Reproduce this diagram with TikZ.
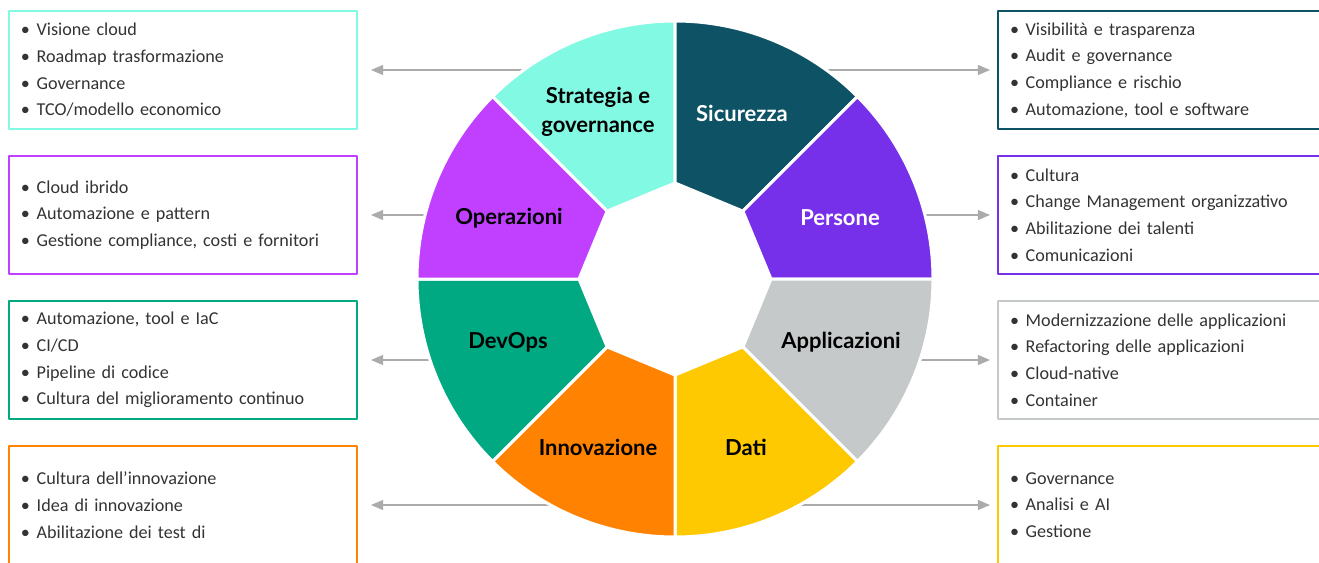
\documentclass[tikz,border=0pt]{standalone}
\usepackage{fontspec}
\setmainfont{Carlito}
\newfontfamily\segfont{Lato}
\usepackage{xcolor}
\usepackage{tikz}
\usetikzlibrary{calc}
\usetikzlibrary{arrows}
\definecolor{hpeteal}{HTML}{0D5265}
\definecolor{hpeviolet}{HTML}{7630EA}
\definecolor{hpegrey}{HTML}{C6C9CA}
\definecolor{hpeyellow}{HTML}{FEC901}
\definecolor{hpeorange}{HTML}{FF8300}
\definecolor{hpegreen}{HTML}{01A982}
\definecolor{hpemagenta}{HTML}{C140FF}
\definecolor{hpeaqua}{HTML}{82F9E2}
\definecolor{linkgrey}{HTML}{ABABAB}
\definecolor{txtgrey}{HTML}{333333}
\tikzstyle{every node}=[font=\fontsize{13.6}{20}\selectfont]
\tikzstyle{box}=[draw,line width=1.5pt,minimum width=261pt,minimum height=89pt,inner xsep=9pt,text width=243pt,align=left,text=txtgrey]
\tikzstyle{seglabel}=[font=\segfont\bfseries\fontsize{16.5}{21.75}\selectfont,align=center]
\tikzstyle{link}=[->,line width=1.1pt,color=linkgrey]
\newcommand{\itm}{\textbullet\hspace{5pt}}

\begin{document}
\begin{tikzpicture}[line cap=round,line join=round,>=triangle 45,x=0.75pt,y=0.75pt]
            \useasboundingbox (0,0) rectangle (1319,562);
            \clip (0,0) rectangle (1319,562);
            % left boxes
            \node [box,draw=hpeaqua] (lstrat) at (183,492) {\itm Visione cloud\\\itm Roadmap trasformazione\\\itm Governance\\\itm TCO/modello economico};
            \node [box,draw=hpemagenta] (lops) at (183,347) {\itm Cloud ibrido\\\itm Automazione e pattern\\\itm Gestione compliance, costi e fornitori};
            \node [box,draw=hpegreen] (ldev) at (183,202) {\itm Automazione, tool e IaC\\\itm CI/CD\\\itm Pipeline di codice\\\itm Cultura del miglioramento continuo};
            \node [box,draw=hpeorange] (linno) at (183,57) {\itm Cultura dell'innovazione\\\itm Idea di innovazione\\\itm Abilitazione dei test di};
            % right boxes
            \node [box,draw=hpeteal] (rsic) at (1172,492) {\itm Visibilità e trasparenza\\\itm Audit e governance\\\itm Compliance e rischio\\\itm Automazione, tool e software};
            \node [box,draw=hpeviolet] (rpers) at (1172,347) {\itm Cultura\\\itm Change Management organizzativo\\\itm Abilitazione dei talenti\\\itm Comunicazioni};
            \node [box,draw=hpegrey] (rapp) at (1172,202) {\itm Modernizzazione delle applicazioni\\\itm Refactoring delle applicazioni\\\itm Cloud-native\\\itm Container};
            \node [box,draw=hpeyellow] (rdati) at (1172,57) {\itm Governance\\\itm Analisi e AI\\\itm Gestione};

            % label spots (the links start under them)
            \coordinate (strat) at (598,450);
            \coordinate (sic) at (742,449);
            \coordinate (ops) at (509,344);
            \coordinate (pers) at (840,344);
            \coordinate (dev) at (508,220);
            \coordinate (app) at (841,220);
            \coordinate (inno) at (598,115);
            \coordinate (dati) at (746,115);

            % links, hidden under the wheel at their start
            \draw [link] (strat |- lstrat.east) -- ($(lstrat.east)+(13,0)$);
            \draw [link] (ops |- lops.east) -- ($(lops.east)+(13,0)$);
            \draw [link] (dev |- ldev.east) -- ($(ldev.east)+(13,0)$);
            \draw [link] (inno |- linno.east) -- ($(linno.east)+(13,0)$);
            \draw [link] (sic |- rsic.west) -- ($(rsic.west)+(-7,0)$);
            \draw [link] (pers |- rpers.west) -- ($(rpers.west)+(-7,0)$);
            \draw [link] (app |- rapp.west) -- ($(rapp.west)+(-7,0)$);
            \draw [link] (dati |- rdati.west) -- ($(rdati.west)+(-7,0)$);

            % wheel
            \begin{scope}[shift={(675,283)}]
            \foreach \a/\col in {90/hpeaqua,45/hpeteal,0/hpeviolet,-45/hpegrey,-90/hpeyellow,-135/hpeorange,180/hpegreen,135/hpemagenta}
              \filldraw [fill=\col,draw=white,line width=2.25pt] (\a:96) -- (\a:258) arc [start angle=\a,delta angle=45,radius=258] -- ({\a+45}:96) -- cycle;
            \end{scope}

            \node [seglabel] (stratlbl) at (strat) {Strategia e\\governance};
            \node [seglabel,text=white] (siclbl) at (sic) {Sicurezza};
            \node [seglabel] (opslbl) at (ops) {Operazioni};
            \node [seglabel,text=white] (perslbl) at (pers) {Persone};
            \node [seglabel] (devlbl) at (dev) {DevOps};
            \node [seglabel] (applbl) at (app) {Applicazioni};
            \node [seglabel] (innolbl) at (inno) {Innovazione};
            \node [seglabel] (datilbl) at (dati) {Dati};
\end{tikzpicture}
\end{document}
